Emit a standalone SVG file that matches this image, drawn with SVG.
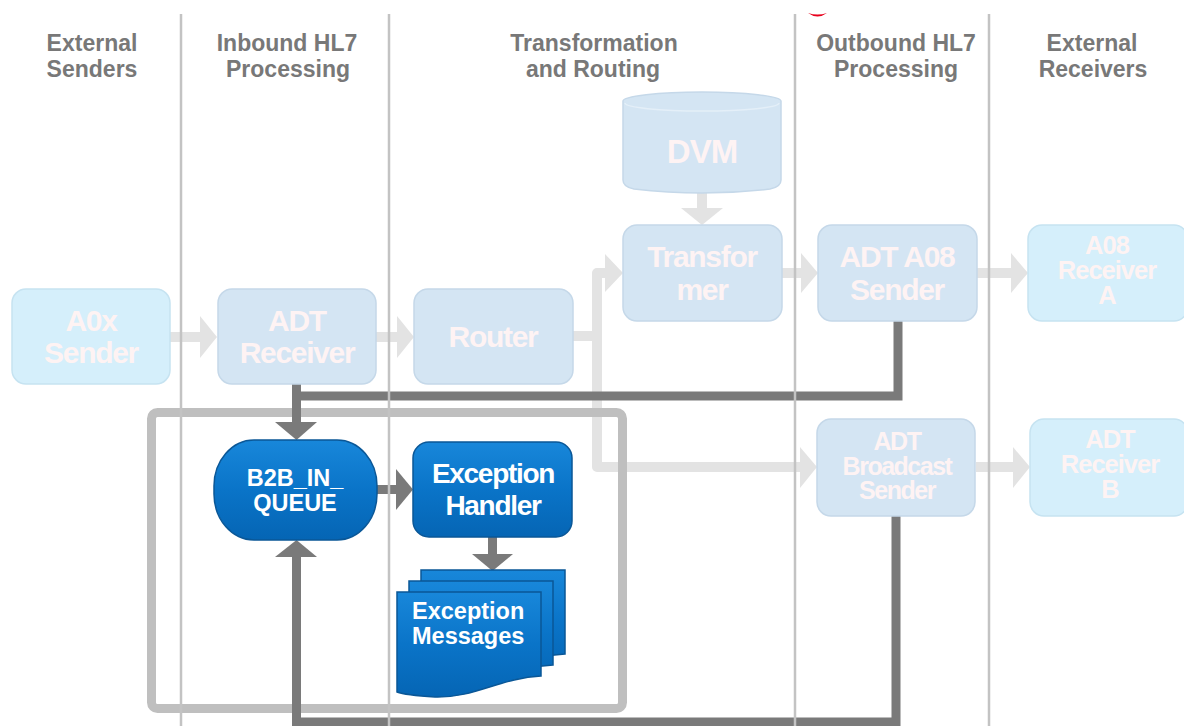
<svg xmlns="http://www.w3.org/2000/svg" width="1184" height="726" viewBox="0 0 1184 726">
<defs>
<style>
.hdr{font-family:"Liberation Sans",Arial,sans-serif;font-weight:bold;font-size:23px;fill:#787878;text-anchor:middle}
.ft{font-family:"Liberation Sans",Arial,sans-serif;font-weight:bold;font-size:30px;fill:#fef3f3;text-anchor:middle;letter-spacing:-1.3px}
.ft28{font-size:25.5px;letter-spacing:-1px}
.ft25{font-size:25px;letter-spacing:-1.5px}
.bt{font-family:"Liberation Sans",Arial,sans-serif;font-weight:bold;fill:#ffffff}
.lane{stroke:#c3c3c3;stroke-width:2.5;fill:none}
.cyan{fill:#d5effb;stroke:#c6e3f1;stroke-width:1.5}
.pale{fill:#d4e5f3;stroke:#c5d8e9;stroke-width:1.5}
.blue{fill:url(#bg);stroke:#0a5797;stroke-width:1.5}
.lt{stroke:#e3e3e3;stroke-width:10;fill:none;stroke-linejoin:round}
.lth{fill:#e3e3e3}
.dk{stroke:#7a7a7a;stroke-width:9;fill:none;stroke-linejoin:miter}
.dkh{fill:#7a7a7a}
</style>
<linearGradient id="bg" x1="0" y1="0" x2="0" y2="1">
<stop offset="0" stop-color="#1887da"/>
<stop offset="0.5" stop-color="#0a74c8"/>
<stop offset="1" stop-color="#0565b4"/>
</linearGradient>
</defs>
<rect width="1184" height="726" fill="#ffffff"/>

<g id="headers">
<text class="hdr" x="92" y="51">External</text>
<text class="hdr" x="92" y="77">Senders</text>
<text class="hdr" x="287" y="51">Inbound HL7</text>
<text class="hdr" x="288" y="77">Processing</text>
<text class="hdr" x="594" y="51">Transformation</text>
<text class="hdr" x="593" y="77">and Routing</text>
<text class="hdr" x="896" y="51">Outbound HL7</text>
<text class="hdr" x="896" y="77">Processing</text>
<text class="hdr" x="1092" y="51">External</text>
<text class="hdr" x="1093" y="77">Receivers</text>
<path d="M808,13 Q817.5,20 827,13 Q817.5,16 808,13Z" fill="#e8001c"/>
</g>

<g id="connectors">
<path class="lt" d="M170,337 H201"/>
<polygon class="lth" points="200,316 217,337 200,358"/>
<path class="lt" d="M376,337 H398"/>
<polygon class="lth" points="397,316 414,337 397,358"/>
<path class="lt" d="M573,336 H597 M606,273 H597 V467 H801"/>
<polygon class="lth" points="605,254 623,273 605,292"/>
<polygon class="lth" points="800,447 817,467 800,488"/>
<path class="lt" d="M702,191 V209"/>
<polygon class="lth" points="681,208 723,208 702,225"/>
<path class="lt" d="M782,273 H802"/>
<polygon class="lth" points="801,253 818,273 801,293"/>
<path class="lt" d="M977,273 H1012"/>
<polygon class="lth" points="1011,253 1028,273 1011,293"/>
<path class="lt" d="M976,467 H1014"/>
<polygon class="lth" points="1013,447 1030,467 1013,488"/>
</g>

<g id="frame">
<rect x="151.5" y="412.5" width="471" height="296" rx="6" fill="none" stroke="#bfbfbf" stroke-width="9"/>
</g>

<g id="connectors-dark">
<path class="dk" d="M898,321 V396 H296"/>
<path class="dk" d="M296.5,384 V423"/>
<polygon class="dkh" points="275,422 317,422 296.5,440"/>
<path class="dk" d="M896,516 V722 H296.5 V556"/>
<polygon class="dkh" points="275,557 317,557 296.5,540"/>
<path class="dk" d="M377,489.5 H397"/>
<polygon class="dkh" points="396,469 413,489.5 396,510"/>
<path class="dk" d="M492.5,537 V555"/>
<polygon class="dkh" points="472,554 513,554 492.5,571"/>
</g>

<g id="lanes">
<line class="lane" x1="181" y1="14" x2="181" y2="726"/>
<line class="lane" x1="389" y1="14" x2="389" y2="726"/>
<line class="lane" x1="795" y1="14" x2="795" y2="726"/>
<line class="lane" x1="989" y1="14" x2="989" y2="726"/>
</g>

<g id="a0x-sender">
<rect class="cyan" x="12" y="289" width="158" height="95" rx="14"/>
<text class="ft" x="91" y="331">A0x</text>
<text class="ft" x="91" y="363">Sender</text>
</g>
<g id="adt-receiver">
<rect class="pale" x="218" y="289" width="158" height="95" rx="14"/>
<text class="ft" x="297" y="331">ADT</text>
<text class="ft" x="297" y="363">Receiver</text>
</g>
<g id="router">
<rect class="pale" x="414" y="289" width="159" height="95" rx="14"/>
<text class="ft" x="493" y="347">Router</text>
</g>
<g id="dvm">
<path class="pale" d="M623,101 A79,9 0 0 1 781,101 V180 Q781,187 770,189 Q702,197 634,189 Q623,187 623,180 Z"/>
<path d="M625,103 A77,8 0 0 0 779,103" fill="none" stroke="#e4eff8" stroke-width="1.5"/>
<text class="ft" x="702" y="163" style="font-size:33px;letter-spacing:-1px">DVM</text>
</g>
<g id="transformer">
<rect class="pale" x="623" y="225" width="159" height="96" rx="14"/>
<text class="ft" x="702" y="267">Transfor</text>
<text class="ft" x="702" y="300">mer</text>
</g>
<g id="adt-a08-sender">
<rect class="pale" x="818" y="225" width="159" height="96" rx="14"/>
<text class="ft" x="897" y="267">ADT A08</text>
<text class="ft" x="897" y="300">Sender</text>
</g>
<g id="a08-receiver-a">
<rect class="cyan" x="1028" y="225" width="160" height="96" rx="14"/>
<text class="ft ft28" x="1107" y="254">A08</text>
<text class="ft ft28" x="1107" y="279">Receiver</text>
<text class="ft ft28" x="1107" y="304">A</text>
</g>
<g id="adt-broadcast-sender">
<rect class="pale" x="817" y="419" width="158" height="97" rx="14"/>
<text class="ft ft25" x="897" y="450">ADT</text>
<text class="ft ft25" x="897" y="475">Broadcast</text>
<text class="ft ft25" x="897" y="499">Sender</text>
</g>
<g id="adt-receiver-b">
<rect class="cyan" x="1030" y="419" width="158" height="97" rx="14"/>
<text class="ft ft28" x="1110" y="448">ADT</text>
<text class="ft ft28" x="1110" y="473">Receiver</text>
<text class="ft ft28" x="1110" y="498">B</text>
</g>

<g id="b2b-in-queue">
<rect class="blue" x="214" y="440" width="163" height="100" rx="40" ry="46"/>
<text class="bt" x="295" y="486" text-anchor="middle" style="font-size:23.5px">B2B_IN_</text>
<text class="bt" x="295" y="511" text-anchor="middle" style="font-size:23.5px">QUEUE</text>
</g>
<g id="exception-handler">
<rect class="blue" x="413" y="442" width="159" height="95" rx="16"/>
<text class="bt" x="493" y="483" text-anchor="middle" style="font-size:28px;letter-spacing:-1.3px">Exception</text>
<text class="bt" x="493" y="515" text-anchor="middle" style="font-size:28px;letter-spacing:-1.3px">Handler</text>
</g>
<g id="exception-messages">
<path class="blue" d="M421,570 H565 V654 C524,656 499,676 459,675 C444,674 429,673 421,670 Z"/>
<path class="blue" d="M409,581 H553 V665 C512,667 487,687 447,686 C432,685 417,684 409,681 Z"/>
<path class="blue" d="M397,592 H541 V676 C500,678 475,698 435,697 C420,696 405,695 397,692 Z"/>
<text class="bt" x="412" y="619" style="font-size:23.5px">Exception</text>
<text class="bt" x="412" y="644" style="font-size:23.5px">Messages</text>
</g>
</svg>
